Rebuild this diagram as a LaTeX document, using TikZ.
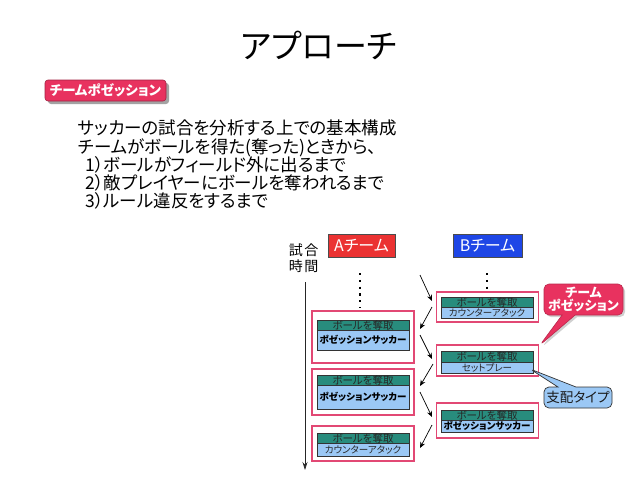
\documentclass[tikz,border=0pt]{standalone}
\usepackage{fontspec}
\setmainfont{Noto Sans CJK JP}[RawFeature=+palt]
\usetikzlibrary{shapes.callouts,shadows,arrows.meta}
\definecolor{framepink}{RGB}{226,72,116}
\definecolor{hdrgreen}{RGB}{40,140,125}
\definecolor{bodyblue}{RGB}{155,200,245}
\definecolor{teamred}{RGB}{235,50,50}
\definecolor{teamblue}{RGB}{30,70,230}
\definecolor{badgepink}{RGB}{232,50,95}
\begin{document}
\begin{tikzpicture}[x=1pt,y=-1pt,
  bodytxt/.style={inner sep=0pt,anchor=base west,font=\fontsize{17.5}{18}\selectfont},
  frame/.style={draw=framepink,line width=1.8pt,inner sep=0pt,minimum width=102pt},
  hdr/.style={draw=black!80,fill=hdrgreen,line width=0.6pt,inner sep=0pt,minimum width=92pt,text=black!85,font=\fontsize{10.5}{10}\selectfont},
  bodybox/.style={draw=black!80,fill=bodyblue,line width=0.6pt,inner sep=0pt,minimum width=92pt,text=black!85,font=\fontsize{9.5}{10}\selectfont},
  bold/.style={font=\fontsize{9.5}{10}\selectfont\bfseries,text=black},
  team/.style={draw=black!70,line width=0.6pt,inner sep=0pt,minimum height=23pt,text=white,font=\fontsize{16}{16}\selectfont},
  flow/.style={-{Stealth[length=6pt,width=5pt]},line width=0.7pt,black},
  dots/.style={line width=2.2pt,dash pattern=on 2.2pt off 4.6pt,black}
]
\fill[white] (0,0) rectangle (638,479);
\useasboundingbox (0,0) rectangle (638,479);

% title
\node[inner sep=0pt,font=\fontsize{33}{35}\selectfont] (title) at (319,45) {アプローチ};

% badge
\node[draw=badgepink!70!black,fill=badgepink,line width=0.6pt,rounded corners=3pt,
  minimum width=121pt,minimum height=21pt,inner sep=0pt,text=white,
  font=\fontsize{13.5}{14}\selectfont\bfseries,
  drop shadow={shadow xshift=3pt,shadow yshift=-3pt,fill=black!45,opacity=0.8}] (badge) at (105.5,90.5) {チームポゼッション};

% body text
\node[bodytxt] (l1) at (78,134) {サッカーの試合を分析する上での基本構成};
\node[bodytxt] (l2) at (78,153) {チームがボールを得た(奪った)ときから、};
\node[bodytxt] (l3) at (85,171) {1）ボールがフィールド外に出るまで};
\node[bodytxt] (l4) at (85,189) {2）敵プレイヤーにボールを奪われるまで};
\node[bodytxt] (l5) at (85,207) {3）ルール違反をするまで};

% time label
\node[inner sep=0pt,font=\fontsize{14}{15}\selectfont] (t1) at (303.5,250) {試\hspace{1.5pt}合};
\node[inner sep=0pt,font=\fontsize{14}{15}\selectfont] (t2) at (303.5,266.5) {時\hspace{1.5pt}間};
\coordinate (tl0) at (305,282);
\coordinate (tl1) at (305,470);
\draw[-{Stealth[length=8pt,width=5pt]},line width=0.7pt,black!85] (tl0) -- (tl1);

% teams
\node[team,fill=teamred,minimum width=67pt] (tA) at (361.5,246) {Aチーム};
\node[team,fill=teamblue,minimum width=69pt] (tB) at (487.5,246) {Bチーム};

% dotted
\coordinate (dA0) at (360,273);
\coordinate (dA1) at (360,308);
\coordinate (dB0) at (487,273);
\coordinate (dB1) at (487,289);
\draw[dots] (dA0) -- (dA1);
\draw[dots] (dB0) -- (dB1);

% A column
\node[frame,minimum height=52pt] (A1) at (363,337) {};
\node[hdr,minimum height=10pt] (A1h) at (363,325) {ボールを奪取};
\node[bodybox,bold,minimum height=20pt] (A1b) at (363,340) {ポゼッションサッカー};

\node[frame,minimum height=46pt] (A2) at (363,392) {};
\node[hdr,minimum height=10pt] (A2h) at (363,380) {ボールを奪取};
\node[bodybox,bold,minimum height=24pt] (A2b) at (363,397) {ポゼッションサッカー};

\node[frame,minimum height=35pt] (A3) at (363,443.5) {};
\node[hdr,minimum height=10pt] (A3h) at (363,438) {ボールを奪取};
\node[bodybox,minimum height=13pt] (A3b) at (363,449.5) {カウンターアタック};

% B column
\node[frame,minimum height=30pt] (B1) at (487.5,307) {};
\node[hdr,minimum height=10pt] (B1h) at (487,302) {ボールを奪取};
\node[bodybox,minimum height=11pt] (B1b) at (487,312.5) {カウンターアタック};

\node[frame,minimum height=31pt] (B2) at (487.5,360.5) {};
\node[hdr,minimum height=11pt] (B2h) at (487,356.5) {ボールを奪取};
\node[bodybox,minimum height=11pt] (B2b) at (487,367.5) {セットプレー};

\node[frame,minimum height=35pt] (B3) at (487.5,420.5) {};
\node[hdr,minimum height=10pt] (B3h) at (487,415) {ボールを奪取};
\node[bodybox,bold,font=\fontsize{9.5}{9.5}\selectfont\bfseries,minimum height=12pt] (B3b) at (487,426) {ポゼッションサッカー};

% flow arrows
\coordinate (a0s) at (420,275); \coordinate (a0e) at (432,301);
\coordinate (a1s) at (432,307); \coordinate (a1e) at (420,329);
\coordinate (a2s) at (420,335); \coordinate (a2e) at (432,359);
\coordinate (a3s) at (433,364); \coordinate (a3e) at (420,386);
\coordinate (a4s) at (420,392); \coordinate (a4e) at (432,417);
\coordinate (a5s) at (432,425); \coordinate (a5e) at (420,448);
\draw[flow] (a0s) -- (a0e);
\draw[flow] (a1s) -- (a1e);
\draw[flow] (a2s) -- (a2e);
\draw[flow] (a3s) -- (a3e);
\draw[flow] (a4s) -- (a4e);
\draw[flow] (a5s) -- (a5e);

% callouts
\coordinate (cPtip) at (540,345);
\node[rectangle callout,rounded corners=5pt,fill=badgepink,draw=badgepink!80!black,line width=0.6pt,
  minimum width=79pt,minimum height=31pt,inner sep=0pt,align=center,text=white,
  font=\fontsize{13}{13.5}\selectfont\bfseries,
  callout absolute pointer={(cPtip)},callout pointer width=13pt,
  drop shadow={shadow xshift=2pt,shadow yshift=-2pt,fill=black!30,opacity=0.6}] (cP) at (583.5,299.5) {チーム\\ポゼッション};
\coordinate (cStip) at (530,369);
\node[rectangle callout,rounded corners=5pt,fill=bodyblue,draw=black!80,line width=0.7pt,
  minimum width=68pt,minimum height=21pt,inner sep=0pt,text=black!90,
  font=\fontsize{13.5}{14}\selectfont,
  callout absolute pointer={(cStip)},callout pointer width=18pt] (cS) at (578,397.5) {支配タイプ};
\end{tikzpicture}
\end{document}
